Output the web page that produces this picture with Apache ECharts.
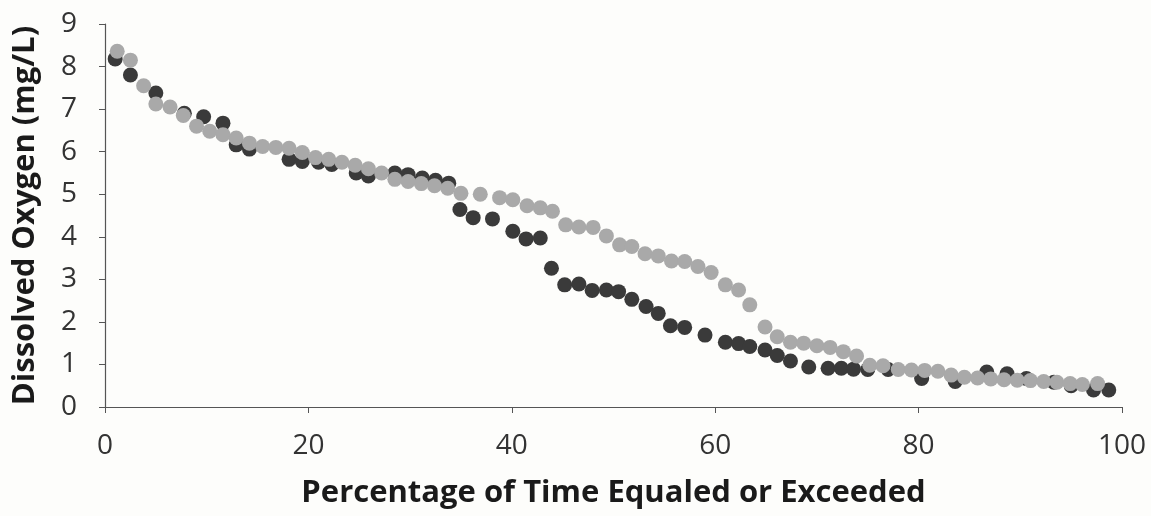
<!DOCTYPE html>
<html>
<head>
<meta charset="utf-8">
<script src="https://cdn.jsdelivr.net/npm/echarts@6/dist/echarts.min.js"></script>
<style>
  html, body { margin: 0; padding: 0; background: #fdfdfb; }
  #chart { width: 1151px; height: 516px; }
</style>
</head>
<body>
<div id="chart"></div>
<script>
// percent of time exceeded vs dissolved oxygen
const darkX = [1.0, 2.5, 5.0, 7.8, 9.7, 11.6, 12.9, 14.2, 18.1, 19.4, 21.0, 22.3, 24.7, 25.9, 28.5, 29.8, 31.2, 32.5, 33.8,
  34.9, 36.2, 38.1, 40.1, 41.4, 42.8, 43.9, 45.2, 46.6, 47.9, 49.3, 50.5, 51.8, 53.2, 54.4, 55.6, 57.0, 59.0,
  61.0, 62.3, 63.4, 64.9, 66.1, 67.4, 69.2, 71.1, 72.4, 73.6, 75.0, 77.0, 80.3, 83.6, 86.7, 88.7, 90.6, 93.3,
  95.0, 97.2, 98.7];
const darkY = [8.18, 7.8, 7.38, 6.9, 6.82, 6.67, 6.16, 6.06, 5.82, 5.77, 5.75, 5.7, 5.5, 5.43, 5.5, 5.46, 5.38, 5.33, 5.26,
  4.64, 4.45, 4.42, 4.13, 3.95, 3.97, 3.26, 2.87, 2.89, 2.74, 2.75, 2.71, 2.53, 2.36, 2.2, 1.91, 1.87, 1.69,
  1.52, 1.49, 1.42, 1.34, 1.21, 1.08, 0.94, 0.91, 0.91, 0.89, 0.88, 0.88, 0.67, 0.6, 0.82, 0.78, 0.67, 0.58,
  0.5, 0.4, 0.4];

const grayX = [1.2, 2.5, 3.8, 5.0, 6.4, 7.7, 9.0, 10.3, 11.6, 12.9, 14.2, 15.5, 16.8, 18.1, 19.4, 20.7, 22.0, 23.3, 24.6,
  25.9, 27.2, 28.5, 29.8, 31.1, 32.4, 33.7, 35.0, 36.9, 38.8, 40.1, 41.5, 42.8, 44.0, 45.3, 46.6, 48.0, 49.3,
  50.6, 51.8, 53.1, 54.4, 55.7, 57.0, 58.3, 59.6, 61.0, 62.3, 63.4, 64.9, 66.1, 67.4, 68.7, 70.0, 71.3, 72.6,
  73.9, 75.2, 76.5, 78.0, 79.3, 80.6, 81.9, 83.2, 84.5, 85.8, 87.1, 88.4, 89.7, 91.0, 92.3, 93.6, 94.9, 96.1, 97.6];
const grayY = [8.36, 8.15, 7.55, 7.12, 7.05, 6.85, 6.6, 6.48, 6.4, 6.32, 6.2, 6.12, 6.1, 6.08, 5.98, 5.86, 5.82, 5.75, 5.68,
  5.6, 5.5, 5.35, 5.3, 5.25, 5.2, 5.14, 5.02, 5.0, 4.92, 4.87, 4.73, 4.68, 4.6, 4.28, 4.23, 4.22, 4.02,
  3.81, 3.77, 3.6, 3.55, 3.43, 3.42, 3.3, 3.16, 2.87, 2.75, 2.4, 1.88, 1.65, 1.52, 1.5, 1.44, 1.4, 1.3,
  1.2, 0.98, 0.97, 0.88, 0.87, 0.86, 0.84, 0.75, 0.7, 0.68, 0.66, 0.64, 0.63, 0.62, 0.6, 0.58, 0.55, 0.53, 0.55];

const xTitle = "Percentage of Time Equaled or Exceeded";
const yTitle = "Dissolved Oxygen (mg/L)";

let chart = echarts.init(document.getElementById("chart"), null, { renderer: "canvas" });
chart.setOption({
  backgroundColor: "#fdfdfb",
  animation: false,
  grid: {
    left: 105,
    right: 29,
    top: 24,
    bottom: 109,
  },
  xAxis: {
    type: "value",
    min: 0,
    max: 100,
    interval: 20,
    name: xTitle,
    nameLocation: "middle",
    nameGap: 71,
    nameTextStyle: { fontFamily: "Open Sans", fontWeight: "bold", fontSize: 31, color: "#1a1a1a" },
    axisLine: { show: true, lineStyle: { color: "#555", width: 1.2 } },
    axisTick: { show: true, length: 6, lineStyle: { color: "#555" } },
    axisLabel: { fontFamily: "Open Sans", fontSize: 28, color: "#333", margin: 25 },
    splitLine: { show: false },
  },
  yAxis: {
    type: "value",
    min: 0,
    max: 9,
    interval: 1,
    name: yTitle,
    nameLocation: "middle",
    nameGap: 64,
    nameTextStyle: { fontFamily: "Open Sans", fontWeight: "bold", fontSize: 31, color: "#1a1a1a" },
    axisLine: { show: true, lineStyle: { color: "#555", width: 1.2 } },
    axisTick: { show: true, length: 6, lineStyle: { color: "#555" } },
    axisLabel: { fontFamily: "Open Sans", fontSize: 28, color: "#333", margin: 28 },
    splitLine: { show: false },
  },
  series: [
    {
      name: "dark",
      type: "scatter",
      symbolSize: 15,
      itemStyle: { color: "#3a3a3a", opacity: 1 },
      data: darkX.map((x, i) => [x, darkY[i]]),
    },
    {
      name: "gray",
      type: "scatter",
      symbolSize: 15,
      itemStyle: { color: "#a9a9a9", opacity: 1 },
      data: grayX.map((x, i) => [x, grayY[i]]),
    },
  ],
});
</script>
</body>
</html>
